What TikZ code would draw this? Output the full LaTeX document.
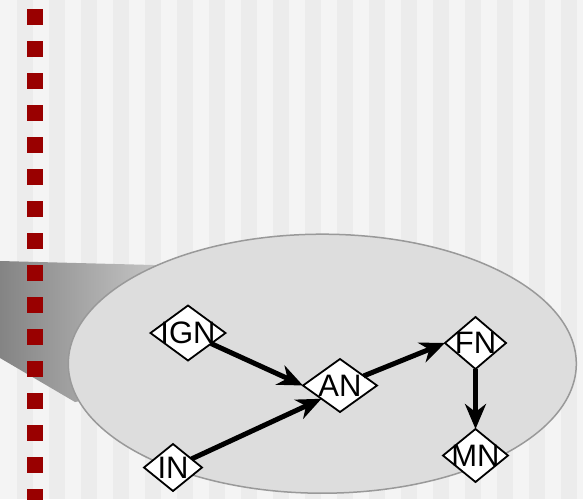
\documentclass[tikz,border=0pt]{standalone}
\usepackage{fontspec}
\setmainfont{Liberation Sans}
\usetikzlibrary{shapes.geometric,arrows.meta}
\definecolor{bglight}{HTML}{F4F4F4}
\definecolor{bgdark}{HTML}{ECECEC}
\definecolor{dotred}{HTML}{990000}
\definecolor{ellfill}{HTML}{DDDDDD}
\definecolor{elldraw}{HTML}{999999}
\definecolor{gleft}{HTML}{848484}
\definecolor{gright}{HTML}{C8C8C8}
\tikzset{
  state/.style 2 args={shape=diamond, draw=black, line width=1.8pt, fill=white,
    inner sep=0pt, outer sep=0pt, minimum width=#1, minimum height=#2},
  lbl/.style={font=\fontsize{31}{31}\selectfont, inner sep=0pt},
  arr/.style={line width=5pt, -{Stealth[length=25pt,width=21pt,inset=8pt]}},
  zoomcone/.style={left color=gleft, right color=gright},
  zoomell/.style={fill=ellfill, draw=elldraw, line width=1.5pt},
  reddots/.style={dotred, line width=16pt, dash pattern=on 16pt off 16pt}
}
\begin{document}
\begin{tikzpicture}[x=1pt,y=-1pt]
\useasboundingbox (0,0) rectangle (583,499);
\clip (0,0) rectangle (583,499);
\fill[bglight] (0,0) rectangle (583,499);
\foreach \k in {0,...,17} {
  \fill[bgdark] ({17+32*\k},0) rectangle ({33+32*\k},499);
}
\shade[zoomcone] (0,261) -- (165,265.3) -- (165,385) -- (75,402) -- (0,358) -- cycle;
\draw[reddots] (35,9) -- (35,520);
\draw[zoomell] (322.3,363.7) ellipse [x radius=254, y radius=129.5];

\node[state={75pt}{55pt}, label={[lbl]center:IGN}] (ign) at (188,333) {};
\node[state={74pt}{53pt}, label={[lbl]center:AN}] (an) at (340,385.5) {};
\node[state={58pt}{47pt}, label={[lbl]center:IN}] (in) at (173,467.5) {};
\node[state={61pt}{52pt}, label={[lbl]center:FN}] (fn) at (475.5,343) {};
\node[state={65pt}{53pt}, label={[lbl]center:MN}] (mn) at (475.5,455.5) {};

\draw[arr] (ign) -- (an.west);
\draw[arr] (in) -- (an.south west);
\draw[arr] (an) -- (fn.west);
\draw[arr] (fn) -- (mn);
\end{tikzpicture}
\end{document}
